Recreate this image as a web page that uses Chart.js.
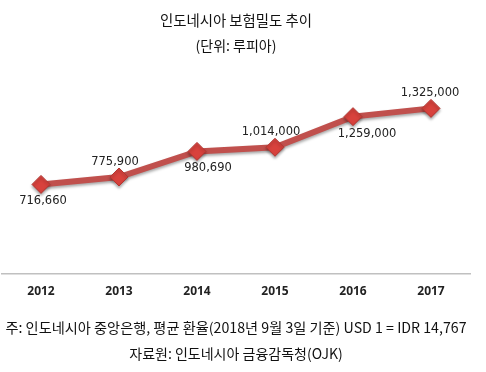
<!DOCTYPE html>
<html>
<head>
<meta charset="utf-8">
<script src="https://cdn.jsdelivr.net/npm/chart.js@4"></script>
<style>
  body { margin: 0; background: #fff; }
  #wrap { position: relative; width: 486px; height: 372px; overflow: hidden; }
  #grafico { position: absolute; left: 0; top: 0; }
  .txt { position: absolute; left: 0; width: 472px; text-align: center; font-family: "Noto Sans CJK KR", sans-serif; font-size: 14px; color: #111; line-height: 20px; }
</style>
</head>
<body>
<div id="wrap">
  <canvas id="grafico" width="486" height="372"></canvas>
  <div class="txt" style="top:10px; font-size:14.4px">인도네시아 보험밀도 추이</div>
  <div class="txt" style="top:35px">(단위: 루피아)</div>
  <div class="txt" style="top:317px; font-size:14.2px">주: 인도네시아 중앙은행, 평균 환율(2018년 9월 3일 기준) USD 1 = IDR 14,767</div>
  <div class="txt" style="top:343px">자료원: 인도네시아 금융감독청(OJK)</div>
</div>
<script>
  const anios = ['2012', '2013', '2014', '2015', '2016', '2017'];
  const densidad = [716660, 775900, 980690, 1014000, 1259000, 1325000];

  // etiquetas arriba / abajo alternadas como en el original
  const etiquetas = {
    id: 'etiquetas',
    afterDatasetsDraw(chart) {
      const ctx = chart.ctx;
      const meta = chart.getDatasetMeta(0);
      const dx = [2, -4, 11, -4, 14, -1];
      ctx.save();
      ctx.font = '11.5px "DejaVu Sans", sans-serif';
      ctx.fillStyle = '#222';
      ctx.textAlign = 'center';
      ctx.textBaseline = 'middle';
      meta.data.forEach((p, i) => {
        const arriba = i % 2 === 1;
        const y = arriba ? p.y - 15 : p.y + 17;
        ctx.fillText(densidad[i].toLocaleString('en-US'), p.x + dx[i], y);
      });
      ctx.restore();
    }
  };

  // sombra debajo de la linea
  const sombra = {
    id: 'sombra',
    beforeDatasetDraw(chart) {
      const ctx = chart.ctx;
      ctx.save();
      ctx.shadowColor = 'rgba(0,0,0,0.35)';
      ctx.shadowBlur = 3;
      ctx.shadowOffsetY = 2;
    },
    afterDatasetDraw(chart) {
      chart.ctx.restore();
    }
  };

  const ctxG = document.getElementById('grafico').getContext('2d');

  new Chart(ctxG, {
    type: 'line',
    data: {
      labels: anios,
      datasets: [{
        data: densidad,
        borderColor: '#c0504d',
        borderWidth: 6,
        pointStyle: 'rectRot',
        pointRadius: 9,
        pointHoverRadius: 9,
        pointBackgroundColor: '#d8423d',
        pointBorderColor: '#b33531',
        pointBorderWidth: 1,
        tension: 0
      }]
    },
    options: {
      responsive: false,
      animation: false,
      layout: { autoPadding: false, padding: { left: 2, right: 16, top: 74, bottom: 58 } },
      plugins: { legend: { display: false }, tooltip: { enabled: false }, title: { display: false } },
      scales: {
        x: {
          offset: true,
          grid: { display: false, drawTicks: false },
          border: { display: true, color: '#c0c0c0', width: 1.5 },
          ticks: { color: '#222', padding: 10, font: { family: '"Noto Sans", sans-serif', size: 12, weight: 'bold' } },
          afterFit: s => { s.height = 40; s.paddingLeft = 0; s.paddingRight = 0; }
        },
        y: { display: false, min: 0, max: 1600000 }
      }
    },
    plugins: [sombra, etiquetas]
  });
</script>
</body>
</html>
